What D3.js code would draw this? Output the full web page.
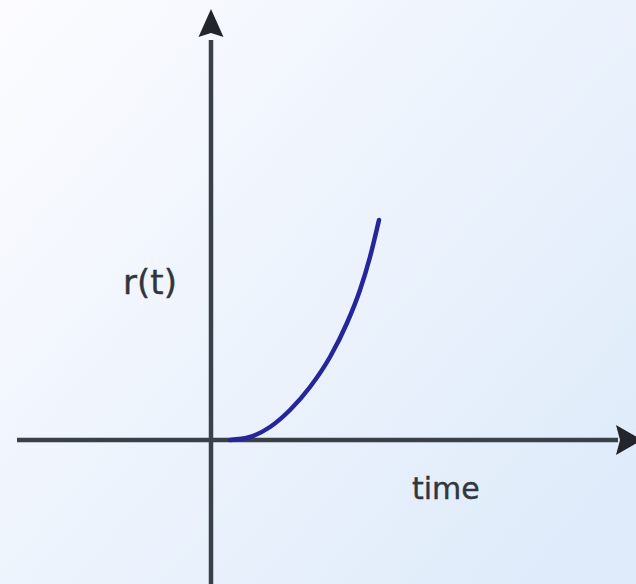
<!DOCTYPE html>
<html>
<head>
<meta charset="utf-8">
<script src="https://cdn.jsdelivr.net/npm/d3@7"></script>
<style>
  html, body { margin: 0; padding: 0; overflow: hidden; }
  svg { display: block; }
</style>
</head>
<body>
<script>
// Growth curve r(t): sampled (time, r) pairs
const timeValues = [0.38, 0.78, 1.18, 1.58, 1.98, 2.38, 2.72, 2.98, 3.18, 3.36];
const rValues    = [0.00, 0.06, 0.26, 0.60, 1.06, 1.66, 2.34, 3.00, 3.66, 4.40];
const xAxisLabel = "time";
const yAxisLabel = "r(t)";

const W = 636, H = 584;
const svg = d3.select("body").append("svg").attr("width", W).attr("height", H);

const defs = svg.append("defs");
const grad = defs.append("linearGradient").attr("id", "bg")
  .attr("x1", "0%").attr("y1", "0%").attr("x2", "100%").attr("y2", "80%");
grad.append("stop").attr("offset", "0%").attr("stop-color", "#fcfcff");
grad.append("stop").attr("offset", "100%").attr("stop-color", "#dfebfa");
svg.append("rect").attr("width", W).attr("height", H).attr("fill", "url(#bg)");

// 50 px per unit, origin at (211, 440)
const x = d3.scaleLinear().domain([-3.9, 8.5]).range([16, 636]);
const y = d3.scaleLinear().domain([-2.88, 8.6]).range([584, 10]);

const axisColor = "#3a4048";
const g = svg.append("g");

// horizontal axis
g.append("line")
  .attr("x1", x(-3.88)).attr("x2", x(8.14))
  .attr("y1", y(0)).attr("y2", y(0))
  .attr("stroke", axisColor).attr("stroke-width", 4.5);
// arrowhead on time axis
const xa = x(8.1), xt = x(8.62), yc = y(0);
g.append("path")
  .attr("d", `M${xa},${yc - 15} L${xt},${yc} L${xa},${yc + 15} L${xa + 4},${yc} Z`)
  .attr("fill", "#22262c");

// vertical axis
g.append("line")
  .attr("x1", x(0)).attr("x2", x(0))
  .attr("y1", y(-2.88)).attr("y2", y(8.0))
  .attr("stroke", axisColor).attr("stroke-width", 4.5);
const xc = x(0), ya = y(8.06), yt = y(8.62);
g.append("path")
  .attr("d", `M${xc - 12.5},${ya} L${xc},${yt} L${xc + 12.5},${ya} L${xc},${ya - 4} Z`)
  .attr("fill", "#22262c");

// curve
const pts = timeValues.map((t, i) => [t, rValues[i]]);
const line = d3.line()
  .x(d => x(d[0])).y(d => y(d[1]))
  .curve(d3.curveMonotoneX);
g.append("path")
  .datum(pts)
  .attr("d", line)
  .attr("fill", "none")
  .attr("stroke", "#26259a")
  .attr("stroke-width", 4.5)
  .attr("stroke-linecap", "round");

// labels
svg.append("text")
  .attr("x", 150).attr("y", 294)
  .attr("text-anchor", "middle")
  .attr("font-family", "DejaVu Sans, Verdana, sans-serif")
  .attr("font-size", 34)
  .attr("fill", "#30363e")
  .attr("stroke", "#30363e").attr("stroke-width", 0.4)
  .text(yAxisLabel);

svg.append("text")
  .attr("x", 412).attr("y", 499)
  .attr("font-family", "DejaVu Sans, Verdana, sans-serif")
  .attr("font-size", 30)
  .attr("fill", "#30363e")
  .attr("stroke", "#30363e").attr("stroke-width", 0.4)
  .text(xAxisLabel);
</script>
</body>
</html>
